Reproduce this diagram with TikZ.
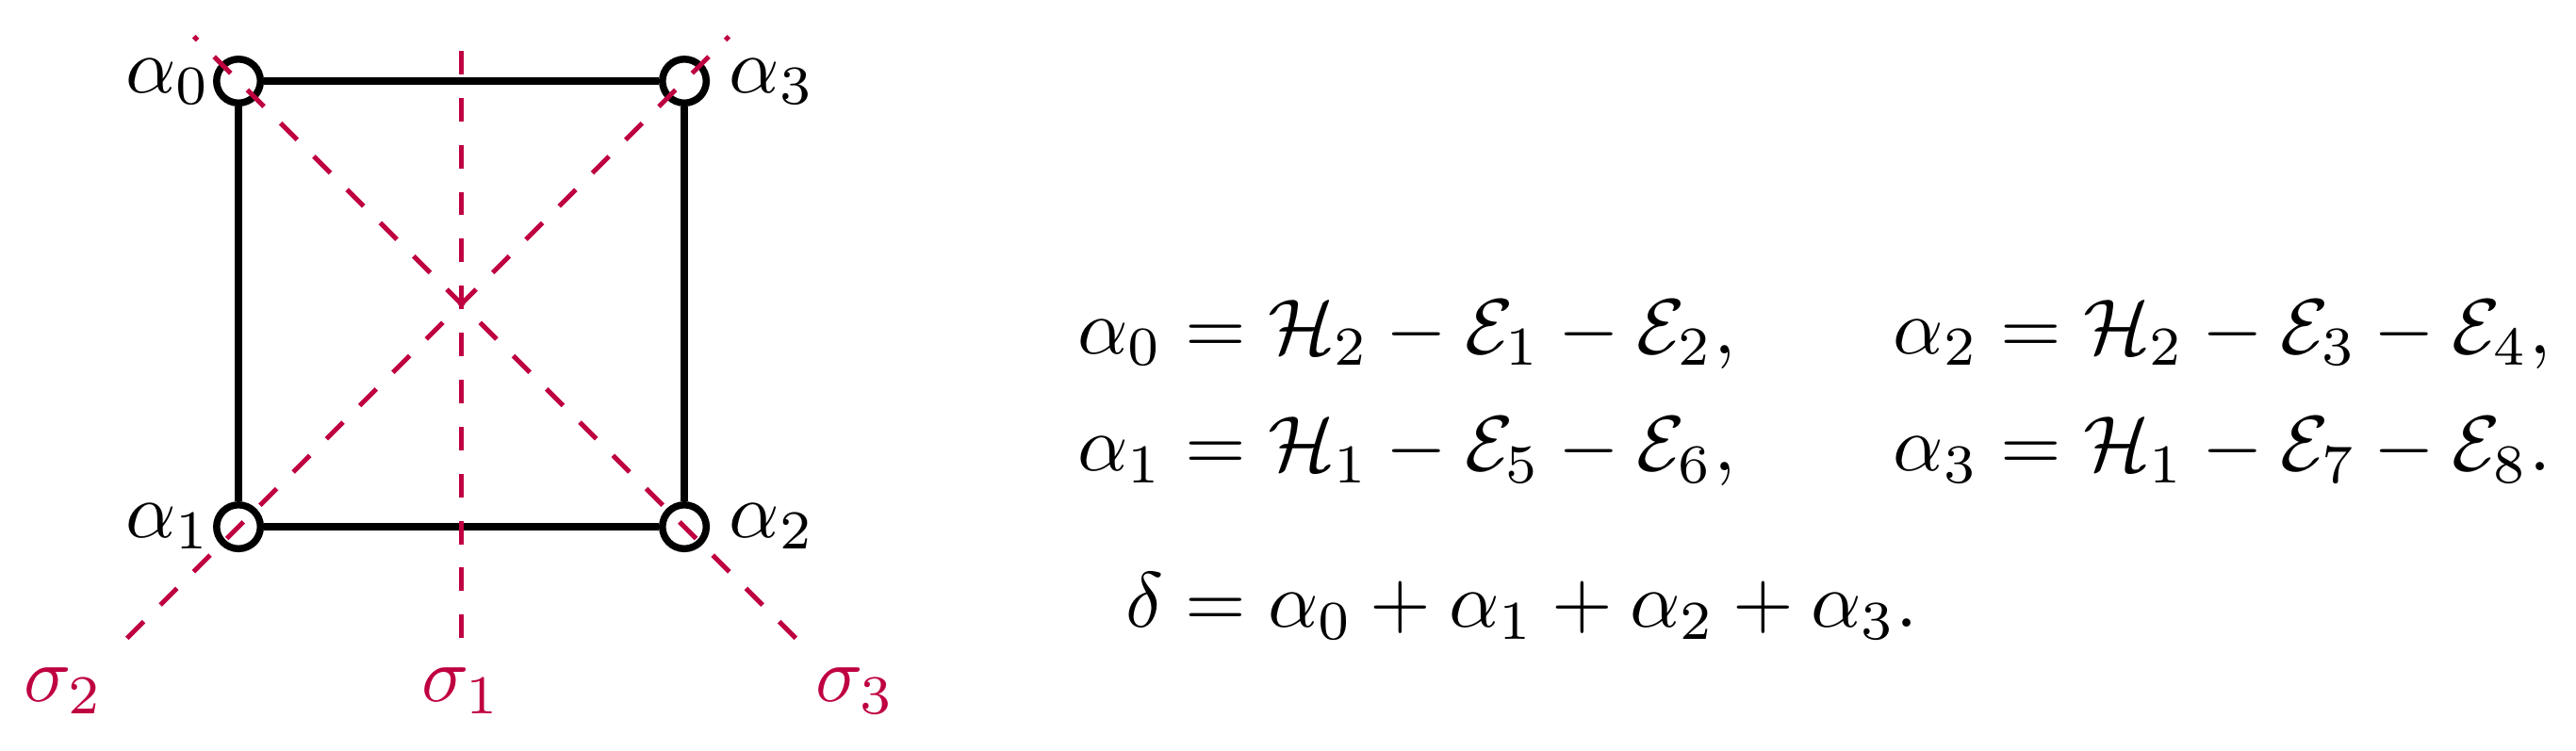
\documentclass[tikz,border=0pt]{standalone}
\usepackage{amsmath}
\begin{document}
\begin{tikzpicture}[
  vtx/.style={circle,draw=black,line width=0.9pt,inner sep=0pt,minimum size=5.6pt},
  edge/.style={draw=black,line width=0.9pt},
  mirror/.style={draw=purple,line width=0.6pt,dashed},
  lab/.style={inner sep=0pt,anchor=base west},
  slab/.style={inner sep=0pt,anchor=base,text=purple}
]
\useasboundingbox (-2.070,-2.002) rectangle (9.486,1.364);
% vertices
\node[vtx] (a0) at (-1,1) {};
\node[vtx] (a3) at (1,1) {};
\node[vtx] (a1) at (-1,-1) {};
\node[vtx] (a2) at (1,-1) {};
% edges
\draw[edge] (a0) -- (a3);
\draw[edge] (a3) -- (a2);
\draw[edge] (a2) -- (a1);
\draw[edge] (a1) -- (a0);
% mirror lines
\coordinate (s2a) at (-1.5,-1.5);
\coordinate (s2b) at (1.2,1.2);
\coordinate (s3a) at (1.5,-1.5);
\coordinate (s3b) at (-1.2,1.2);
\coordinate (s1a) at (0,-1.5);
\coordinate (s1b) at (0,1.2);
\draw[mirror] (s2a) -- (s2b);
\draw[mirror] (s3a) -- (s3b);
\draw[mirror] (s1a) -- (s1b);
% vertex labels
\node[lab] (l0) at (-1.512,0.949) {$\alpha_0$};
\node[lab] (l3) at (1.195,0.949) {$\alpha_3$};
\node[lab] (l1) at (-1.512,-1.047) {$\alpha_1$};
\node[lab] (l2) at (1.195,-1.047) {$\alpha_2$};
% mirror labels
\node[slab] (t2) at (-1.785,-1.786) {$\sigma_2$};
\node[slab] (t1) at (0,-1.786) {$\sigma_1$};
\node[slab] (t3) at (1.767,-1.786) {$\sigma_3$};
% equations
\node[lab] (eqL) at (2.759,-0.222) {$\begin{aligned}[t]
\alpha_0 &= \mathcal{H}_2-\mathcal{E}_1-\mathcal{E}_2,\\
\alpha_1 &= \mathcal{H}_1-\mathcal{E}_5-\mathcal{E}_6,\\[5pt]
\delta &= \alpha_0+\alpha_1+\alpha_2+\alpha_3.
\end{aligned}$};
\node[lab] (eqR) at (6.417,-0.222) {$\begin{aligned}[t]
\alpha_2 &= \mathcal{H}_2-\mathcal{E}_3-\mathcal{E}_4,\\
\alpha_3 &= \mathcal{H}_1-\mathcal{E}_7-\mathcal{E}_8.
\end{aligned}$};
\end{tikzpicture}
\end{document}
